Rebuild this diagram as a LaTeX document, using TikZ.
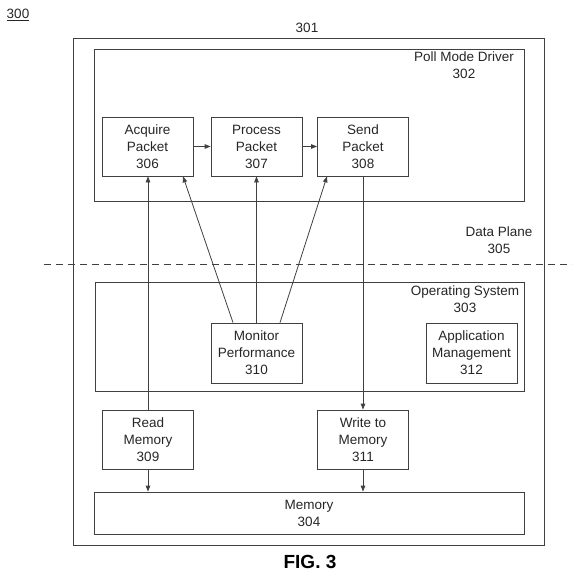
\documentclass[tikz,border=0pt]{standalone}
\usepackage{fontspec}
\setmainfont{Liberation Sans}
\usetikzlibrary{arrows.meta,calc}
\begin{document}
\begin{tikzpicture}[x=1pt,y=-1pt,
  ln/.style={draw=black!75,line width=0.8pt},
  blk/.style={ln,rectangle,minimum width=91pt,minimum height=59pt,inner sep=0pt,align=center,
    font=\fontsize{13.5}{17}\selectfont,text=black!85},
  lbl/.style={align=center,font=\fontsize{13.5}{17}\selectfont,text=black!85,inner sep=0pt},
  arr/.style={ln,-{Triangle[length=6pt,width=4.5pt]}},
  con/.style={ln}]
\useasboundingbox (0,0) rectangle (576,576);
% containers
\draw[ln] (73,38) rectangle (544,545);
\draw[ln] (94,49) rectangle (524,201);
\draw[ln] (95,282) rectangle (524,391);
\draw[ln,dashed,dash pattern=on 7pt off 5pt] (44,264) -- (572,264);
% labels
\node[lbl] (n300) at (18,15) {\underline{300}};
\node[lbl] (n301) at (307,28) {301};
\node[lbl] (n302) at (464,65) {Poll Mode Driver\\302};
\node[lbl] (n305) at (499,240) {Data Plane\\305};
\node[lbl] (n303) at (465,299) {Operating System\\303};
\node[lbl,font=\fontsize{19}{22}\selectfont\bfseries,text=black] (fig) at (310,562) {FIG. 3};
% blocks
\node[blk] (acq) at (147.5,146.5) {Acquire\\Packet\\306};
\node[blk] (proc) at (256.5,146.5) {Process\\Packet\\307};
\node[blk] (send) at (363,146.5) {Send\\Packet\\308};
\node[blk,minimum height=60pt] (mon) at (256.5,353) {Monitor\\Performance\\310};
\node[blk,minimum height=60pt] (app) at (471.5,353) {Application\\Management\\312};
\node[blk] (read) at (148,439.5) {Read\\Memory\\309};
\node[blk] (write) at (363,439.5) {Write to\\Memory\\311};
\node[blk,minimum width=430pt,minimum height=42pt] (mem) at (309,513) {Memory\\304};
% connectors
\draw[arr] (acq) -- (proc);
\draw[arr] (proc) -- (send);
\draw[arr] (read.north) -- (read.north |- acq.south);
\draw[arr] ([xshift=-23.5pt]mon.north) -- ([xshift=35.5pt]acq.south);
\draw[arr] (mon.north) -- (proc.south);
\draw[arr] ([xshift=23.5pt]mon.north) -- ([xshift=-36pt]send.south);
\draw[arr] (send.south) -- (write.north);
\draw[arr] (read.south) -- (read.south |- mem.north);
\draw[arr] (write.south) -- (write.south |- mem.north);
\end{tikzpicture}
\end{document}
